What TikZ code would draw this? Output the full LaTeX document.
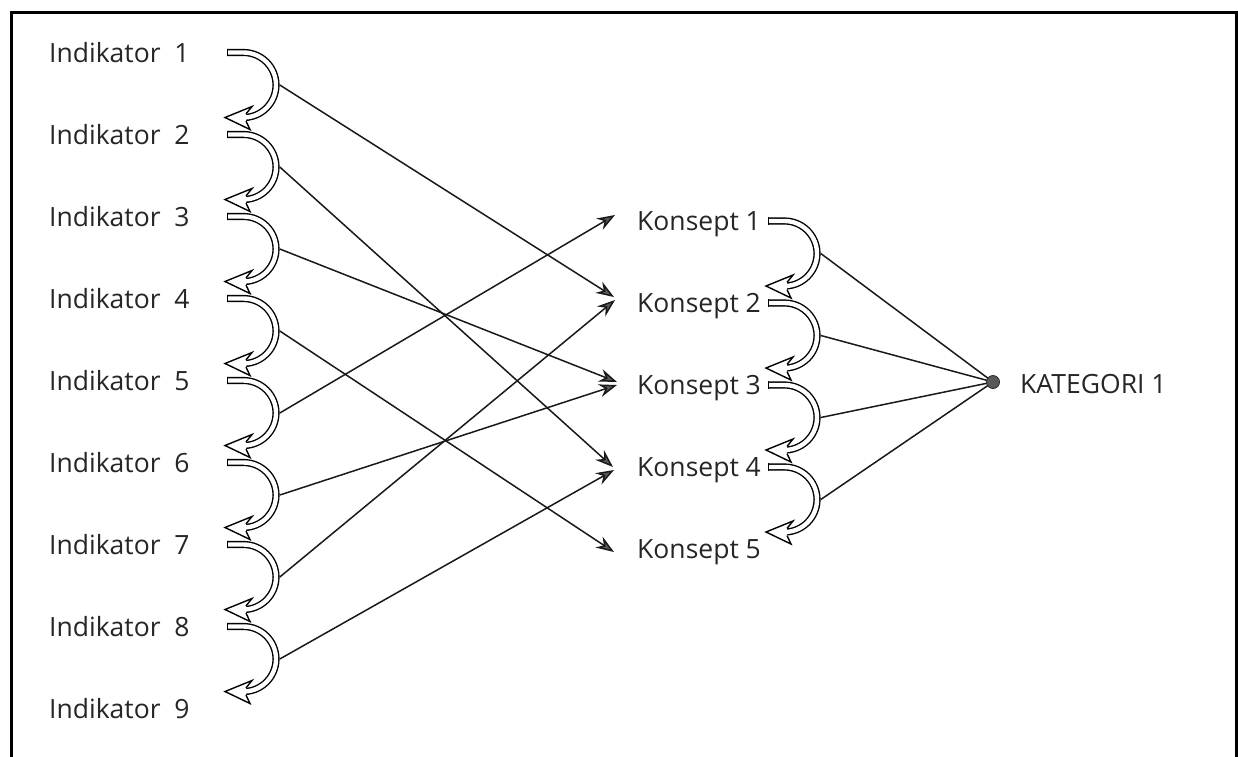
\documentclass[tikz,border=0pt]{standalone}
\usepackage{fontspec}
\setmainfont{Open Sans}
\usetikzlibrary{arrows.meta}
\tikzset{
  shaft/.style={line width=1.4pt, double=white, double distance=4.4pt},
  edgeline/.style={line width=1.4pt},
  conn/.style={line width=1.5pt, draw=black!90, -{Stealth[length=18pt,width=13pt,inset=6pt,fill=black!65]}},
  plain/.style={line width=1.5pt, draw=black!90},
  lab/.style={anchor=base west, inner sep=0pt, font=\fontsize{26.5}{30}\selectfont, text=black!85},
  bendarrow/.pic={
    \draw[shaft] (0,0) -- (16.5,0) arc[start angle=-90, end angle=88, radius=32.5];
    \draw[edgeline] (0.7,-3.6) -- (0.7,3.6);
    \fill[white] (-2,65) -- (25,54) -- (19,61.4) -- (19,68.6) -- (23,77) -- cycle;
    \draw[edgeline, line join=miter] (19,61.4) -- (25,54) -- (-2,65) -- (23,77) -- (19,68.6);
    \coordinate (-out) at (52.8,32.5);
  }
}
\begin{document}
\begin{tikzpicture}[x=1pt,y=-1pt]
\useasboundingbox (0,0) rectangle (1238,756);
% frame
\draw[line width=3pt] (11,760) -- (11,12) -- (1236,12) -- (1236,760);
% indicator labels
\foreach \i in {1,...,9}{
  \node[lab] (ind\i) at (49,{62+82*(\i-1)}) {Indikator\ \ \i};
}
% indicator bend arrows
\foreach \i in {1,...,8}{
  \pic (i\i) at (227,{52.5+82*(\i-1)}) {bendarrow};
}
% konsept labels
\foreach \k in {1,...,5}{
  \node[lab] (kon\k) at (637,{230+82*(\k-1)}) {Konsept \k};
}
\foreach \k in {1,...,4}{
  \pic (k\k) at (768,{221+82*(\k-1)}) {bendarrow};
}
% arrow tips at konsepts
\coordinate (k1a) at (615,215);
\coordinate (k2a) at (614,297);
\coordinate (k2b) at (615,300);
\coordinate (k3a) at (617,382);
\coordinate (k3b) at (617,385);
\coordinate (k4a) at (613,467);
\coordinate (k4b) at (614,470);
\coordinate (k5a) at (614,552);
% connectors
\draw[conn] (i1-out) -- (k2a);
\draw[conn] (i2-out) -- (k4a);
\draw[conn] (i3-out) -- (k3a);
\draw[conn] (i4-out) -- (k5a);
\draw[conn] (i5-out) -- (k1a);
\draw[conn] (i6-out) -- (k3b);
\draw[conn] (i7-out) -- (k2b);
\draw[conn] (i8-out) -- (k4b);
% kategori
\coordinate (katc) at (993,382);
\foreach \k in {1,...,4}{
  \draw[plain] (k\k-out) -- (katc);
}
\node[circle, fill=black!65, draw=black!85, line width=0.8pt, inner sep=0pt, minimum size=13pt] (kat) at (katc) {};
\node[lab] (katl) at (1020,393) {KATEGORI 1};
\end{tikzpicture}
\end{document}
